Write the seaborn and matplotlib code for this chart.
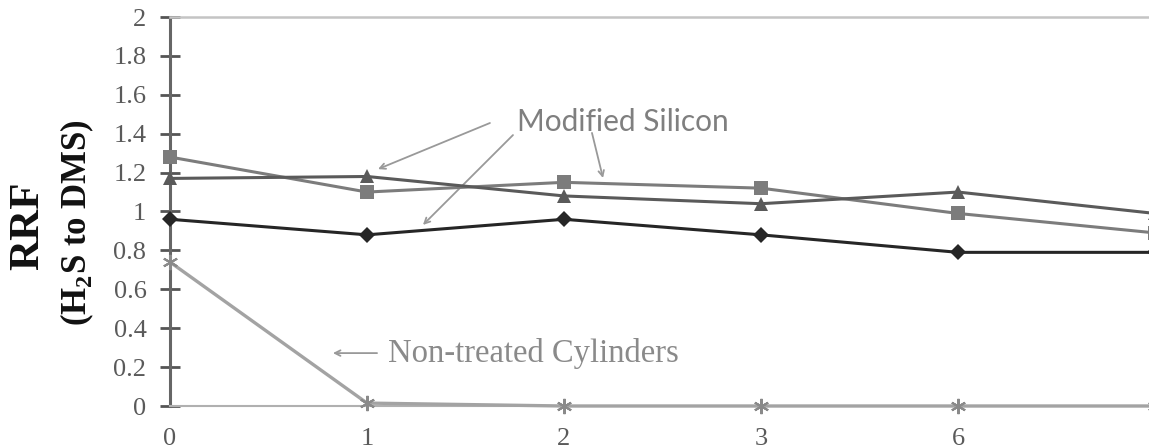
import numpy as np
import pandas as pd
import matplotlib
matplotlib.use('Agg')
import matplotlib.pyplot as plt
import seaborn as sns

# datos
dias = ['0', '1', '2', '3', '6', '7']
diamante = [0.96, 0.88, 0.96, 0.88, 0.79, 0.79]
cuadrado = [1.28, 1.10, 1.15, 1.12, 0.99, 0.89]
triangulo = [1.17, 1.18, 1.08, 1.04, 1.10, 0.99]
sin_tratar = [0.74, 0.015, 0.0, 0.0, 0.0, 0.0]
etiquetas_y = ['0', '0.2', '0.4', '0.6', '0.8', '1', '1.2', '1.4', '1.6', '1.8', '2']

pos = np.arange(len(dias))
df = pd.DataFrame({'pos': pos, 'diamante': diamante, 'cuadrado': cuadrado,
                   'triangulo': triangulo, 'sin_tratar': sin_tratar})

sns.set_style('white')
plt.rcParams['font.family'] = ['Liberation Serif', 'DejaVu Serif']
plt.rcParams['mathtext.fontset'] = 'custom'
plt.rcParams['mathtext.rm'] = 'Liberation Serif'
plt.rcParams['mathtext.bf'] = 'Liberation Serif:bold'

fig = plt.figure(figsize=(11.49, 4.48), dpi=100)
ax = fig.add_axes([170 / 1149, 42 / 448, 985 / 1149, 389 / 448])

sns.lineplot(data=df, x='pos', y='sin_tratar', ax=ax, color='#a3a3a3', lw=2.4,
             marker=(6, 2, 0), markersize=11, markeredgecolor='#8a8a8a',
             markeredgewidth=1.5, clip_on=False, zorder=3)
sns.lineplot(data=df, x='pos', y='cuadrado', ax=ax, color='#7c7c7c', lw=2.2,
             marker='s', markersize=9.5, markeredgewidth=0, clip_on=False, zorder=4)
sns.lineplot(data=df, x='pos', y='triangulo', ax=ax, color='#5a5a5a', lw=2.2,
             marker='^', markersize=10.5, markeredgewidth=0, clip_on=False, zorder=4)
sns.lineplot(data=df, x='pos', y='diamante', ax=ax, color='#262626', lw=2.2,
             marker='D', markersize=8, markeredgewidth=0, clip_on=False, zorder=5)

ax.set_xlim(0, len(dias) - 1)
ax.set_ylim(0, 2)
ax.set_xticks(pos)
ax.set_xticklabels(dias, fontfamily='Liberation Serif')
ax.set_yticks(np.arange(0, 2.01, 0.2))
ax.set_yticklabels(etiquetas_y, fontfamily='Liberation Serif')
ax.tick_params(axis='y', direction='inout', length=14, width=2, color='#555555',
               labelsize=19, labelcolor='#5a5a5a', pad=10, left=True)
ax.tick_params(axis='x', length=0, labelsize=19, labelcolor='#5a5a5a', pad=16)
ax.set_xlabel('')
ax.set_ylabel('')

for s in ['left', 'top', 'bottom']:
    ax.spines[s].set_visible(True)
ax.spines['left'].set_color('#666666')
ax.spines['left'].set_linewidth(2.2)
ax.spines['top'].set_color('#c4c4c4')
ax.spines['top'].set_linewidth(1.8)
ax.spines['bottom'].set_color('#b0b0b0')
ax.spines['bottom'].set_linewidth(1.5)
ax.spines['right'].set_visible(False)

# etiquetas del eje y
fig.text(28 / 1149, 1 - 226 / 448, 'RRF', rotation=90, ha='center', va='center',
         fontsize=31, fontweight='bold', color='#111111')
fig.text(77 / 1149, 1 - 223 / 448, r'(H$_\mathbf{2}$S to DMS)', rotation=90,
         ha='center', va='center', fontsize=25, fontweight='bold', color='#111111')

# anotaciones
flecha = dict(arrowstyle='->', color='#999999', lw=1.3, shrinkA=0, shrinkB=0)
ax.text(1.76, 1.46, 'Modified Silicon', fontsize=21.5, color='#7f7f7f',
        family=['Lato', 'DejaVu Sans'], ha='left', va='center')
ax.annotate('', xy=(1.056, 1.218), xytext=(1.624, 1.455), arrowprops=flecha)
ax.annotate('', xy=(1.284, 0.931), xytext=(1.741, 1.393), arrowprops=flecha)
ax.annotate('', xy=(2.198, 1.172), xytext=(2.142, 1.404), arrowprops=flecha)

ax.text(1.107, 0.272, 'Non-treated Cylinders', fontsize=23.5, color='#8a8a8a',
        family='Liberation Serif', ha='left', va='center')
ax.annotate('', xy=(0.827, 0.272), xytext=(1.051, 0.272), arrowprops=flecha)

fig.savefig('out.png', dpi=100)
